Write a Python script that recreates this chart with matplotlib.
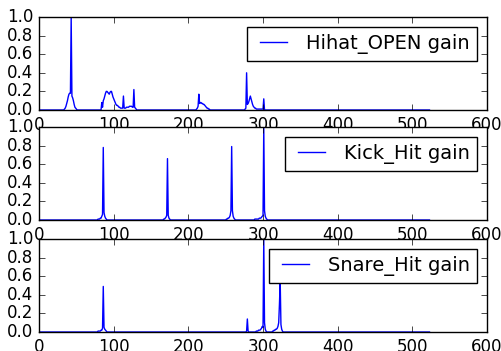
import numpy as np
import matplotlib
matplotlib.use('Agg')
import matplotlib.pyplot as plt

plt.style.use('classic')

n_frames = 524

# gain values: (first frame, consecutive gains); other frames ~0
hihat_segments = [
    (33, [0.0, 0.01, 0.02, 0.04, 0.07, 0.1, 0.14, 0.17, 0.18, 0.18, 1.0, 0.15, 0.13,
          0.1, 0.06, 0.03, 0.02, 0.01, 0.0]),
    (83, [0.0, 0.08, 0.03, 0.1, 0.12, 0.15, 0.18, 0.2, 0.2, 0.19, 0.18, 0.17, 0.19,
          0.2, 0.2, 0.17, 0.14, 0.12, 0.1, 0.08, 0.06, 0.05, 0.05, 0.04, 0.03, 0.03,
          0.02, 0.02, 0.02, 0.02, 0.15, 0.02, 0.02, 0.02, 0.03, 0.03, 0.03, 0.03, 0.04,
          0.04, 0.04, 0.04, 0.03, 0.03, 0.22, 0.03, 0.02, 0.01, 0.0]),
    (210, [0.0, 0.01, 0.02, 0.04, 0.17, 0.07, 0.08, 0.08, 0.07, 0.07, 0.06, 0.06, 0.05,
           0.04, 0.03, 0.02, 0.02, 0.01, 0.01, 0.0]),
    (275, [0.0, 0.01, 0.02, 0.4, 0.06, 0.07, 0.09, 0.12, 0.15, 0.12, 0.09, 0.06, 0.04,
           0.03, 0.02, 0.02, 0.01, 0.01, 0.01, 0.01, 0.01, 0.01, 0.01, 0.01, 0.01, 0.01,
           0.12, 0.0]),
]

kick_segments = [
    (78, [0.0, 0.01, 0.01, 0.01, 0.02, 0.02, 0.04, 0.06, 0.78, 0.08, 0.04, 0.02, 0.01, 0.0]),
    (166, [0.0, 0.01, 0.01, 0.02, 0.03, 0.05, 0.66, 0.05, 0.02, 0.01, 0.0]),
    (250, [0.0, 0.01, 0.01, 0.02, 0.02, 0.03, 0.05, 0.1, 0.79, 0.1, 0.04, 0.02, 0.01, 0.0]),
    (288, [0.0, 0.01, 0.01, 0.01, 0.01, 0.01, 0.01, 0.02, 0.02, 0.02, 0.03, 0.04, 0.05,
           1.0, 0.1, 0.04, 0.02, 0.01, 0.0]),
]

snare_segments = [
    (78, [0.0, 0.01, 0.01, 0.01, 0.01, 0.02, 0.02, 0.04, 0.49, 0.05, 0.03, 0.02, 0.01, 0.0]),
    (277, [0.0, 0.01, 0.14, 0.01, 0.0]),
    (290, [0.0, 0.01, 0.01, 0.01, 0.02, 0.02, 0.02, 0.03, 0.04, 0.06, 0.05, 1.0, 0.1,
           0.03, 0.01, 0.0]),
    (312, [0.0, 0.01, 0.01, 0.02, 0.02, 0.03, 0.03, 0.04, 0.06, 0.1, 0.3, 0.55, 0.08,
           0.03, 0.01, 0.0]),
]

series = [('Hihat_OPEN gain', hihat_segments),
          ('Kick_Hit gain', kick_segments),
          ('Snare_Hit gain', snare_segments)]

fig = plt.figure(figsize=(5.01, 3.51), dpi=100)
fig.patch.set_facecolor('white')

left, width = 0.078, 0.894
bottoms = [0.6866, 0.3732, 0.0541]
height = 0.265

for (label, segments), b in zip(series, bottoms):
    ax = fig.add_axes([left, b, width, height])
    y = np.zeros(n_frames)
    for start, vals in segments:
        y[start:start + len(vals)] = vals
    ax.plot(np.arange(n_frames), y, 'b-', label=label)
    ax.set_xlim(0, 600)
    ax.set_ylim(0, 1.0)
    ax.set_yticks([0.0, 0.2, 0.4, 0.6, 0.8, 1.0])
    ax.set_xticks([0, 100, 200, 300, 400, 500, 600])
    ax.tick_params(labelsize=12)
    ax.legend(loc='upper right', fontsize=14, handlelength=2.0,
              handletextpad=0.68, borderpad=0.37, borderaxespad=0.5)

fig.savefig('out.png', dpi=100, facecolor='white')
